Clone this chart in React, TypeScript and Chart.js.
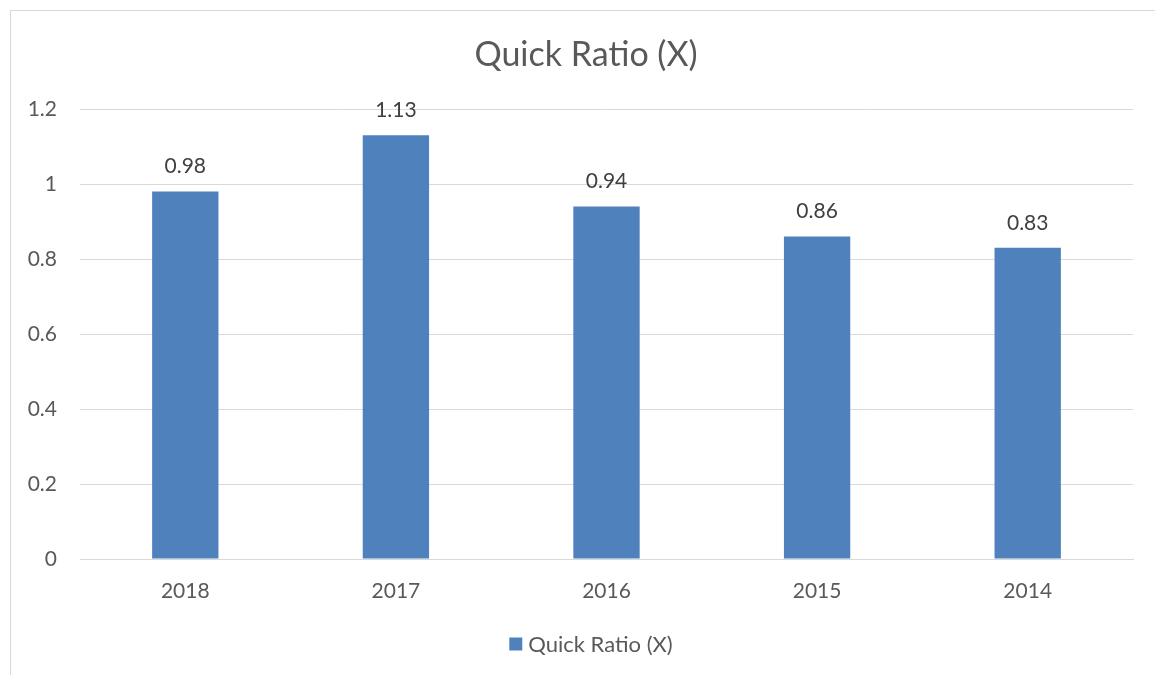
import React, { useEffect, useRef } from "react";
import { Chart, registerables } from "chart.js";

Chart.register(...registerables);

const categories = ["2018", "2017", "2016", "2015", "2014"];
const quickRatio = [0.98, 1.13, 0.94, 0.86, 0.83];
const seriesLabel = "Quick Ratio (X)";
const titleText = "Quick Ratio (X)";

const FONT = "Lato, 'Open Sans', sans-serif";
const BAR_COLOR = "#4F81BD";

const dataLabels = {
  id: "dataLabels",
  afterDatasetsDraw(chart: any) {
    const ctx = chart.ctx;
    const meta = chart.getDatasetMeta(0);
    const ds = chart.data.datasets[0];
    ctx.save();
    ctx.font = `21px ${FONT}`;
    ctx.fillStyle = "#404040";
    ctx.textAlign = "center";
    ctx.textBaseline = "middle";
    meta.data.forEach((bar: any, i: number) => {
      ctx.fillText(String(ds.data[i]), bar.x, bar.y - 25);
    });
    ctx.restore();
  },
};

// Title and legend drawn centred on the chart frame (which extends past the cropped picture)
const frameDecor = {
  id: "frameDecor",
  afterDraw(chart: any) {
    const ctx = chart.ctx;
    const cx = 586;
    ctx.save();
    ctx.fillStyle = "#595959";
    ctx.textAlign = "center";
    ctx.textBaseline = "middle";
    ctx.font = `34px ${FONT}`;
    ctx.fillText(titleText, cx, 55);

    // legend
    ctx.font = `22px ${FONT}`;
    const label = chart.data.datasets[0].label;
    const tw = ctx.measureText(label).width;
    const box = 13;
    const gap = 6;
    const total = box + gap + tw;
    const lx = 591 - total / 2;
    const ly = 644;
    ctx.fillStyle = chart.data.datasets[0].backgroundColor;
    ctx.fillRect(lx, ly - box / 2, box, box);
    ctx.fillStyle = "#595959";
    ctx.textAlign = "left";
    ctx.fillText(label, lx + box + gap, ly + 1);
    ctx.restore();
  },
};

export default function App() {
  const ref = useRef<HTMLCanvasElement | null>(null);
  useEffect(() => {
    document.body.style.margin = "0";
    if (!ref.current) return;
    const chart = new Chart(ref.current, {
      type: "bar",
      data: {
        labels: categories,
        datasets: [
          {
            label: seriesLabel,
            data: quickRatio,
            backgroundColor: BAR_COLOR,
            borderWidth: 0,
            barPercentage: 0.315,
            categoryPercentage: 1,
          },
        ],
      },
      options: {
        animation: false,
        responsive: false,
        maintainAspectRatio: false,
        layout: { padding: { left: 0, right: 22, top: 109, bottom: 66 } },
        plugins: {
          tooltip: { enabled: false },
          title: { display: false },
          legend: { display: false },
        },
        scales: {
          x: {
            grid: { display: false, drawTicks: false },
            border: { display: true, color: "#d9d9d9", width: 1 },
            ticks: { color: "#595959", font: { family: FONT, size: 21 }, padding: 20 },
            afterFit: (s: any) => {
              s.height = 50;
            },
          },
          y: {
            min: 0,
            max: 1.2,
            ticks: {
              stepSize: 0.2,
              color: "#595959",
              font: { family: FONT, size: 21 },
              padding: 23,
              callback: (v: any) => String(Math.round(Number(v) * 10) / 10),
            },
            grid: { color: "#d9d9d9", drawTicks: false },
            border: { display: false },
            afterFit: (s: any) => {
              s.width = 80;
            },
          },
        },
      },
      plugins: [dataLabels, frameDecor],
    });
    return () => chart.destroy();
  }, []);
  return (
    <div style={{ position: "relative", width: 1155, height: 675, background: "#fff", overflow: "hidden" }}>
      <div
        style={{
          position: "absolute",
          left: 10,
          top: 10,
          width: 1145,
          height: 665,
          borderLeft: "1px solid #d9d9d9",
          borderTop: "1px solid #d9d9d9",
        }}
      />
      <canvas ref={ref} width={1155} height={675} style={{ position: "absolute", left: 0, top: 0 }} />
    </div>
  );
}
